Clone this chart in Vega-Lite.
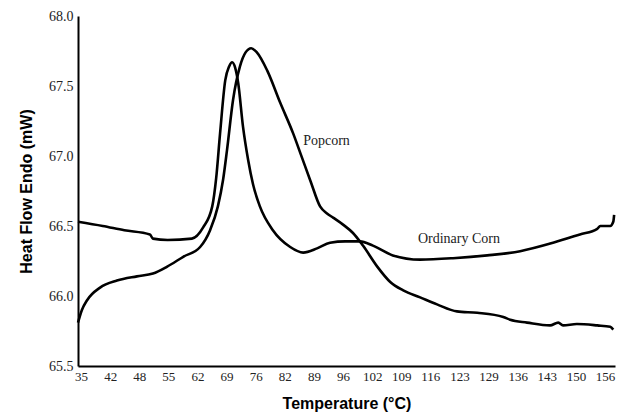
{
  "$schema": "https://vega.github.io/schema/vega-lite/v6.json",
  "width": 537,
  "height": 350,
  "autosize": {"type": "none"},
  "padding": {"left": 78, "top": 16, "right": 5, "bottom": 52},
  "background": "white",
  "config": {"view": {"stroke": null}, "axis": {"labelOverlap": false, "labelSeparation": 0}},
  "datasets": {
    "curves": [
      {"series": "Ordinary Corn", "t": 34.3, "hf": 66.53},
      {"series": "Ordinary Corn", "t": 40, "hf": 66.5},
      {"series": "Ordinary Corn", "t": 45, "hf": 66.47},
      {"series": "Ordinary Corn", "t": 50.9, "hf": 66.44},
      {"series": "Ordinary Corn", "t": 51.6, "hf": 66.41},
      {"series": "Ordinary Corn", "t": 55, "hf": 66.4},
      {"series": "Ordinary Corn", "t": 60.6, "hf": 66.41},
      {"series": "Ordinary Corn", "t": 63.2, "hf": 66.49},
      {"series": "Ordinary Corn", "t": 65.3, "hf": 66.64},
      {"series": "Ordinary Corn", "t": 66.2, "hf": 66.84},
      {"series": "Ordinary Corn", "t": 67.1, "hf": 67.16},
      {"series": "Ordinary Corn", "t": 68.3, "hf": 67.54},
      {"series": "Ordinary Corn", "t": 69.2, "hf": 67.64},
      {"series": "Ordinary Corn", "t": 69.9, "hf": 67.67},
      {"series": "Ordinary Corn", "t": 70.6, "hf": 67.63},
      {"series": "Ordinary Corn", "t": 71.3, "hf": 67.52},
      {"series": "Ordinary Corn", "t": 72.4, "hf": 67.21},
      {"series": "Ordinary Corn", "t": 73.6, "hf": 66.97},
      {"series": "Ordinary Corn", "t": 74.7, "hf": 66.8},
      {"series": "Ordinary Corn", "t": 76.3, "hf": 66.64},
      {"series": "Ordinary Corn", "t": 79.3, "hf": 66.47},
      {"series": "Ordinary Corn", "t": 83.3, "hf": 66.35},
      {"series": "Ordinary Corn", "t": 86.3, "hf": 66.31},
      {"series": "Ordinary Corn", "t": 89.5, "hf": 66.34},
      {"series": "Ordinary Corn", "t": 92.5, "hf": 66.38},
      {"series": "Ordinary Corn", "t": 96, "hf": 66.39},
      {"series": "Ordinary Corn", "t": 99.4, "hf": 66.39},
      {"series": "Ordinary Corn", "t": 102.4, "hf": 66.36},
      {"series": "Ordinary Corn", "t": 107, "hf": 66.29},
      {"series": "Ordinary Corn", "t": 113.3, "hf": 66.26},
      {"series": "Ordinary Corn", "t": 120.9, "hf": 66.27},
      {"series": "Ordinary Corn", "t": 128.8, "hf": 66.29},
      {"series": "Ordinary Corn", "t": 136.4, "hf": 66.32},
      {"series": "Ordinary Corn", "t": 144, "hf": 66.38},
      {"series": "Ordinary Corn", "t": 150.2, "hf": 66.44},
      {"series": "Ordinary Corn", "t": 154.2, "hf": 66.48},
      {"series": "Ordinary Corn", "t": 154.9, "hf": 66.5},
      {"series": "Ordinary Corn", "t": 157.2, "hf": 66.5},
      {"series": "Ordinary Corn", "t": 157.9, "hf": 66.53},
      {"series": "Ordinary Corn", "t": 158.1, "hf": 66.58},
      {"series": "Popcorn", "t": 34.3, "hf": 65.81},
      {"series": "Popcorn", "t": 35.2, "hf": 65.9},
      {"series": "Popcorn", "t": 36.4, "hf": 65.97},
      {"series": "Popcorn", "t": 39.4, "hf": 66.06},
      {"series": "Popcorn", "t": 43.3, "hf": 66.11},
      {"series": "Popcorn", "t": 47.9, "hf": 66.14},
      {"series": "Popcorn", "t": 51.6, "hf": 66.16},
      {"series": "Popcorn", "t": 54.9, "hf": 66.21},
      {"series": "Popcorn", "t": 58.6, "hf": 66.28},
      {"series": "Popcorn", "t": 62.5, "hf": 66.35},
      {"series": "Popcorn", "t": 64.8, "hf": 66.47},
      {"series": "Popcorn", "t": 66.6, "hf": 66.64},
      {"series": "Popcorn", "t": 67.8, "hf": 66.83},
      {"series": "Popcorn", "t": 68.7, "hf": 67.04},
      {"series": "Popcorn", "t": 70.1, "hf": 67.4},
      {"series": "Popcorn", "t": 71.7, "hf": 67.64},
      {"series": "Popcorn", "t": 73, "hf": 67.74},
      {"series": "Popcorn", "t": 74.3, "hf": 67.77},
      {"series": "Popcorn", "t": 75.6, "hf": 67.74},
      {"series": "Popcorn", "t": 78, "hf": 67.61},
      {"series": "Popcorn", "t": 81, "hf": 67.38},
      {"series": "Popcorn", "t": 84, "hf": 67.16},
      {"series": "Popcorn", "t": 86, "hf": 66.99},
      {"series": "Popcorn", "t": 88, "hf": 66.82},
      {"series": "Popcorn", "t": 90.2, "hf": 66.64},
      {"series": "Popcorn", "t": 91.8, "hf": 66.59},
      {"series": "Popcorn", "t": 93.2, "hf": 66.56},
      {"series": "Popcorn", "t": 95.5, "hf": 66.51},
      {"series": "Popcorn", "t": 97.8, "hf": 66.45},
      {"series": "Popcorn", "t": 100.1, "hf": 66.36},
      {"series": "Popcorn", "t": 103.4, "hf": 66.21},
      {"series": "Popcorn", "t": 106.4, "hf": 66.1},
      {"series": "Popcorn", "t": 109.4, "hf": 66.04},
      {"series": "Popcorn", "t": 113.3, "hf": 65.99},
      {"series": "Popcorn", "t": 117.2, "hf": 65.94},
      {"series": "Popcorn", "t": 121.8, "hf": 65.89},
      {"series": "Popcorn", "t": 126.5, "hf": 65.88},
      {"series": "Popcorn", "t": 132.5, "hf": 65.85},
      {"series": "Popcorn", "t": 134.1, "hf": 65.83},
      {"series": "Popcorn", "t": 138, "hf": 65.81},
      {"series": "Popcorn", "t": 143.3, "hf": 65.79},
      {"series": "Popcorn", "t": 145.2, "hf": 65.81},
      {"series": "Popcorn", "t": 146.3, "hf": 65.79},
      {"series": "Popcorn", "t": 149.5, "hf": 65.8},
      {"series": "Popcorn", "t": 154.2, "hf": 65.79},
      {"series": "Popcorn", "t": 157.2, "hf": 65.78},
      {"series": "Popcorn", "t": 157.9, "hf": 65.76}
    ],
    "labels": [
      {"label": "Popcorn", "t": 86.3, "hf": 67.11},
      {"label": "Ordinary Corn", "t": 112.8, "hf": 66.41}
    ]
  },
  "encoding": {
    "x": {
      "field": "t", "type": "quantitative",
      "scale": {"domain": [34.3, 158.3], "nice": false, "zero": false},
      "axis": {
        "title": "Temperature (°C)",
        "titleFont": "Liberation Sans", "titleFontSize": 16, "titleFontWeight": "bold", "titleColor": "black",
        "titlePadding": 12,
        "values": [35, 41.722, 48.444, 55.167, 61.889, 68.611, 75.333, 82.056, 88.778, 95.5, 102.222, 108.944, 115.667, 122.389, 129.111, 135.833, 142.556, 149.278, 156],
        "labelExpr": "['35','42','48','55','62','69','76','82','89','96','102','109','116','123','129','136','143','150','156'][round((datum.value-35)/6.7222)]",
        "labelFont": "Liberation Serif", "labelFontSize": 13, "labelColor": "#222",
        "labelPadding": 4, "labelFlush": false, "labelOverlap": false, "labelSeparation": 0,
        "ticks": false, "grid": false,
        "domainColor": "black", "domainWidth": 2
      }
    },
    "y": {
      "field": "hf", "type": "quantitative",
      "scale": {"domain": [65.5, 68.0], "nice": false, "zero": false},
      "axis": {
        "title": "Heat Flow Endo (mW)",
        "titleFont": "Liberation Sans", "titleFontSize": 16, "titleFontWeight": "bold", "titleColor": "black",
        "titlePadding": 14,
        "values": [65.5, 66.0, 66.5, 67.0, 67.5, 68.0],
        "format": ".1f",
        "labelFont": "Liberation Serif", "labelFontSize": 14, "labelColor": "#222",
        "labelPadding": 5, "labelFlush": false, "labelOverlap": false,
        "ticks": false, "grid": false,
        "domainColor": "black", "domainWidth": 2
      }
    }
  },
  "layer": [
    {
      "data": {"name": "curves"},
      "mark": {"type": "line", "color": "black", "strokeWidth": 2.6, "interpolate": "monotone"},
      "encoding": {
        "detail": {"field": "series", "type": "nominal"}
      }
    },
    {
      "data": {"name": "labels"},
      "mark": {"type": "text", "align": "left", "baseline": "middle", "font": "Liberation Serif", "fontSize": 14, "color": "#222"},
      "encoding": {
        "text": {"field": "label"}
      }
    }
  ]
}
